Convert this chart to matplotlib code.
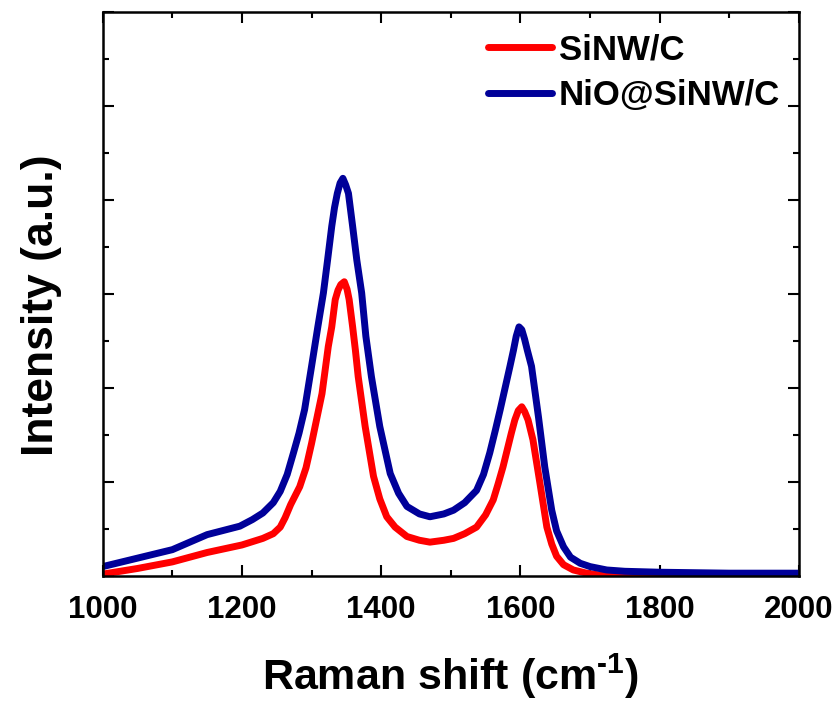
import matplotlib.pyplot as plt
from matplotlib.ticker import MultipleLocator, NullFormatter

plt.rcParams['font.family'] = ['Liberation Sans', 'DejaVu Sans']
plt.rcParams['font.weight'] = 'bold'
plt.rcParams['mathtext.fontset'] = 'custom'
plt.rcParams['mathtext.rm'] = 'Liberation Sans:bold'
plt.rcParams['mathtext.bf'] = 'Liberation Sans:bold'

# Data
shift_sinw = [1000, 1050, 1100, 1150, 1200, 1230, 1245, 1255, 1262, 1270, 1283,
              1292, 1300, 1315, 1324, 1329, 1334, 1338, 1342, 1347, 1351, 1354,
              1359, 1363, 1367, 1377, 1389, 1398, 1408, 1420, 1437, 1455, 1470,
              1490, 1504, 1520, 1537, 1550, 1561, 1568, 1575, 1581, 1587, 1592,
              1597, 1602, 1606, 1611, 1618, 1628, 1638, 1645, 1652, 1662, 1676,
              1695, 1714, 1750, 1800, 1900, 2000]
int_sinw = [0.02, 0.08, 0.15, 0.25, 0.33, 0.40, 0.45, 0.52, 0.62, 0.76, 0.95,
            1.15, 1.41, 1.94, 2.44, 2.65, 2.94, 3.04, 3.10, 3.13, 3.05, 2.94,
            2.65, 2.40, 2.12, 1.59, 1.06, 0.82, 0.63, 0.52, 0.42, 0.38, 0.36,
            0.38, 0.40, 0.45, 0.52, 0.65, 0.81, 0.98, 1.16, 1.34, 1.52, 1.66,
            1.76, 1.80, 1.75, 1.66, 1.45, 0.99, 0.52, 0.34, 0.21, 0.12, 0.064,
            0.03, 0.01, 0.0, 0.0, 0.01, 0.01]

shift_nio = [1000, 1050, 1100, 1150, 1197, 1215, 1230, 1245, 1255, 1265, 1274,
             1282, 1290, 1300, 1309, 1317, 1323, 1329, 1333, 1337, 1341, 1345,
             1349, 1353, 1359, 1365, 1372, 1378, 1386, 1398, 1413, 1425, 1437,
             1455, 1470, 1490, 1504, 1520, 1537, 1547, 1556, 1564, 1571, 1578,
             1585, 1590, 1594, 1598, 1602, 1606, 1610, 1616, 1626, 1635, 1645,
             1652, 1662, 1672, 1686, 1700, 1724, 1750, 1800, 1900, 2000]
int_nio = [0.10, 0.19, 0.28, 0.44, 0.53, 0.60, 0.67, 0.78, 0.90, 1.08, 1.31,
           1.52, 1.77, 2.23, 2.65, 3.01, 3.36, 3.72, 3.92, 4.07, 4.18, 4.23,
           4.16, 4.07, 3.72, 3.36, 3.01, 2.55, 2.12, 1.59, 1.09, 0.88, 0.74,
           0.66, 0.63, 0.66, 0.70, 0.78, 0.91, 1.08, 1.31, 1.55, 1.77, 2.00,
           2.23, 2.40, 2.55, 2.65, 2.62, 2.52, 2.40, 2.23, 1.69, 1.16, 0.70,
           0.48, 0.31, 0.20, 0.135, 0.10, 0.064, 0.05, 0.04, 0.03, 0.03]

fig = plt.figure(figsize=(8.4, 7.02), dpi=100)
ax = fig.add_axes([0.1223, 0.1795, 0.8287, 0.8035])

ax.plot(shift_sinw, int_sinw, color='#ff0000', lw=5, label='SiNW/C',
        solid_joinstyle='round', solid_capstyle='round')
ax.plot(shift_nio, int_nio, color='#000099', lw=5, label='NiO@SiNW/C',
        solid_joinstyle='round', solid_capstyle='round')

ax.set_xlim(1000, 2000)
ax.set_ylim(0, 6)
ax.xaxis.set_major_locator(MultipleLocator(200))
ax.xaxis.set_minor_locator(MultipleLocator(100))
ax.yaxis.set_major_locator(MultipleLocator(1))
ax.yaxis.set_minor_locator(MultipleLocator(0.5))
ax.yaxis.set_major_formatter(NullFormatter())

ax.tick_params(which='both', direction='in', top=True, right=True, width=1.5)
ax.tick_params(which='major', length=8, labelsize=22.5, pad=13.5)
ax.tick_params(which='minor', length=4.5)
for s in ax.spines.values():
    s.set_linewidth(1.8)

ax.set_xlabel(r'Raman shift (cm$^{\text{-}1}$)', fontsize=31, fontweight='bold',
              labelpad=19)
ax.set_ylabel('Intensity (a.u.)', fontsize=32, fontweight='bold')
ax.yaxis.set_label_coords(-0.058, 0.48)

ax.legend(loc='upper left', bbox_to_anchor=(0.508, 1.018), frameon=False,
          fontsize=25, handlelength=1.85, handletextpad=0.2, labelspacing=0.37)

fig.savefig('out.png', dpi=100)
